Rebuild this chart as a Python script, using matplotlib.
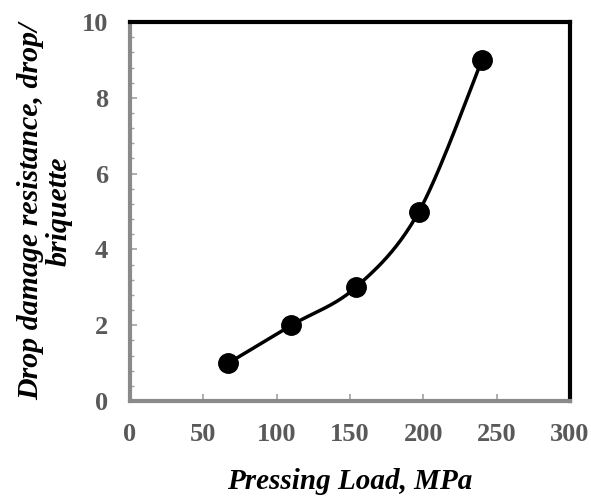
import numpy as np
import matplotlib
matplotlib.use("Agg")
import matplotlib.pyplot as plt

pressing_load = [67, 110, 154, 197, 240]
drop_resistance = [1, 2, 3, 5, 9]
x_ticks = [0, 50, 100, 150, 200, 250, 300]
y_ticks = [0, 2, 4, 6, 8, 10]

def smooth(xs, ys, n=40):
    xs = np.asarray(xs, float); ys = np.asarray(ys, float)
    P = np.column_stack([xs, ys])
    P = np.vstack([P[0], P, P[-1]])
    out = []
    for i in range(1, len(P) - 2):
        p0, p1, p2, p3 = P[i-1], P[i], P[i+1], P[i+2]
        c1 = p1 + (p2 - p0) / 6
        c2 = p2 - (p3 - p1) / 6
        t = np.linspace(0, 1, n)[:, None]
        seg = (1-t)**3*p1 + 3*(1-t)**2*t*c1 + 3*(1-t)*t**2*c2 + t**3*p2
        out.append(seg)
    out = np.vstack(out)
    return out[:, 0], out[:, 1]

plt.rcParams['font.family'] = ['Liberation Serif', 'DejaVu Serif']

fig = plt.figure(figsize=(5.91, 4.96), dpi=100)
ax = fig.add_axes([0.22, 0.1915, 0.7445, 0.764])

sx, sy = smooth(pressing_load, drop_resistance)
ax.plot(sx, sy, color='black', lw=2.5, zorder=3)
ax.plot(pressing_load, drop_resistance, 'o', color='black', ms=14, zorder=4)

ax.set_xlim(0, 300)
ax.set_ylim(0, 10)
ax.set_xticks(x_ticks)
ax.set_yticks(y_ticks)
ax.set_yticks(np.arange(0, 10.01, 0.4), minor=True)

for s in ['top', 'right']:
    ax.spines[s].set_color('black')
    ax.spines[s].set_linewidth(3)
for s in ['left', 'bottom']:
    ax.spines[s].set_color('#8a8a8a')
    ax.spines[s].set_linewidth(3)

ax.tick_params(axis='both', which='major', direction='in', length=5, width=1.2,
               color='#a0a0a0', labelsize=19, labelcolor='#595959')
ax.tick_params(axis='y', which='major', pad=16)
ax.tick_params(axis='y', which='minor', direction='in', length=3, width=1,
               color='#a0a0a0')
ax.tick_params(axis='x', which='major', pad=16)
for lab in ax.get_xticklabels() + ax.get_yticklabels():
    lab.set_fontweight('bold')

ax.set_xlabel('Pressing Load, MPa', fontsize=21, fontweight='bold',
              fontstyle='italic', labelpad=16)
ax.set_ylabel('Drop damage resistance, drop/\nbriquette', fontsize=21.5,
              fontweight='bold', fontstyle='italic', labelpad=6,
              linespacing=1.1)

fig.savefig('out.png', dpi=100)
